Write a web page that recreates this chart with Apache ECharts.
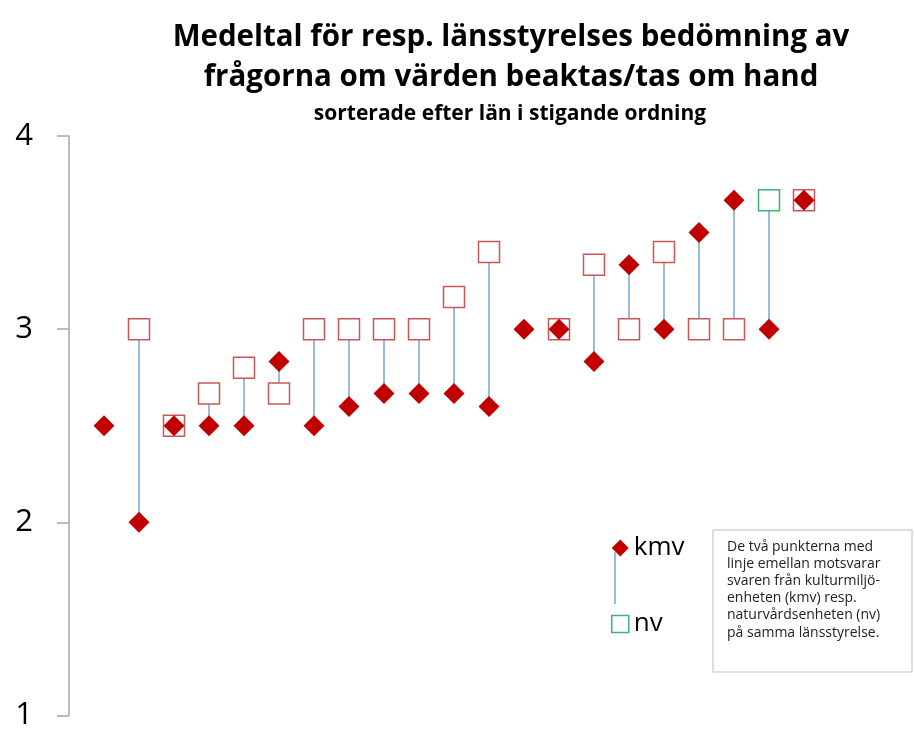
<!DOCTYPE html>
<html>
<head>
<meta charset="utf-8">
<script src="https://cdn.jsdelivr.net/npm/echarts@6/dist/echarts.min.js"></script>
<style>
  html, body { margin: 0; padding: 0; background: #fff; }
  #chart { width: 914px; height: 731px; }
</style>
</head>
<body>
<div id="chart"></div>
<script>
// län i stigande ordning (1..21)
var lan = [1, 2, 3, 4, 5, 6, 7, 8, 9, 10, 11, 12, 13, 14, 15, 16, 17, 18, 19, 20, 21];
// kulturmiljöenheten
var kmv = [2.5, 2.0, 2.5, 2.5, 2.5, 2.833, 2.5, 2.6, 2.667, 2.667, 2.667, 2.6, 3.0, 3.0, 2.833, 3.333, 3.0, 3.5, 3.667, 3.0, 3.667];
// naturvårdsenheten
var nv = [null, 3.0, 2.5, 2.667, 2.8, 2.667, 3.0, 3.0, 3.0, 3.0, 3.167, 3.4, null, 3.0, 3.333, 3.0, 3.4, 3.0, 3.0, 3.667, 3.667];
var yTicks = [1, 2, 3, 4];
var highlightIndex = 19; // grön markering

var chartDom = document.getElementById("chart");
var myChart = echarts.init(chartDom);

var pairData = lan.map(function (x, i) { return [x, kmv[i], nv[i]]; });
var nvData = lan.map(function (x, i) {
  var item = { value: [x, nv[i]] };
  if (i === highlightIndex) {
    item.itemStyle = { borderColor: "#3cb371" };
  }
  return item;
}).filter(function (d) { return d.value[1] !== null; });
var kmvData = lan.map(function (x, i) { return [x, kmv[i]]; });

var font = "Open Sans, Noto Sans, sans-serif";

var option = {
  animation: false,
  title: [
    {
      text: "Medeltal för resp. länsstyrelses bedömning av\nfrågorna om värden beaktas/tas om hand",
      left: 506,
      top: 13,
      textAlign: "center",
      textStyle: { fontFamily: font, fontSize: 29.5, fontWeight: "bold", color: "#000", lineHeight: 40 }
    },
    {
      text: "sorterade efter län i stigande ordning",
      left: 505,
      top: 99,
      textAlign: "center",
      textStyle: { fontFamily: font, fontSize: 21, fontWeight: "bold", color: "#000" }
    }
  ],
  grid: { left: 69, top: 136, right: 5, bottom: 11 },
  xAxis: {
    type: "value",
    min: 0,
    max: 24,
    show: false
  },
  yAxis: {
    type: "value",
    min: 1,
    max: 4,
    interval: 1,
    axisLine: { show: true, lineStyle: { color: "#a6a6a6", width: 1.5 } },
    axisTick: { show: true, length: 12, lineStyle: { color: "#a6a6a6", width: 1.5 } },
    splitLine: { show: false },
    axisLabel: {
      fontFamily: font,
      fontSize: 31,
      color: "#000",
      margin: 36,
      formatter: function (v) { return yTicks.indexOf(v) >= 0 ? String(v) : ""; }
    }
  },
  legend: {
    orient: "vertical",
    left: 606,
    top: 530,
    itemWidth: 17,
    itemHeight: 17,
    itemGap: 50,
    textStyle: { fontFamily: font, fontSize: 26, color: "#000" },
    data: [
      { name: "kmv", icon: "diamond", itemStyle: { color: "#c00000", borderWidth: 0 } },
      { name: "nv", icon: "rect", itemStyle: { color: "#fff", borderColor: "#3cb371", borderWidth: 1.5 } }
    ]
  },
  graphic: [
    {
      type: "line",
      shape: { x1: 615, y1: 552, x2: 615, y2: 604 },
      style: { stroke: "#7aa3d6", lineWidth: 1.5 }
    },
    {
      type: "rect",
      shape: { x: 713, y: 530, width: 199, height: 142 },
      style: { fill: "#fff", stroke: "#bfbfbf", lineWidth: 1 }
    },
    {
      type: "text",
      left: 727,
      top: 538,
      style: {
        text: "De två punkterna med\nlinje emellan motsvarar\nsvaren från kulturmiljö-\nenheten (kmv) resp.\nnaturvårdsenheten (nv)\npå samma länsstyrelse.",
        font: "14px " + font,
        fill: "#222",
        lineHeight: 17.2
      }
    }
  ],
  series: [
    {
      name: "linje",
      type: "custom",
      silent: true,
      data: pairData,
      encode: { x: 0, y: [1, 2] },
      renderItem: function (params, api) {
        var a = api.value(1);
        var b = api.value(2);
        if (isNaN(a) || isNaN(b) || a === b) { return null; }
        var p1 = api.coord([api.value(0), a]);
        var p2 = api.coord([api.value(0), b]);
        return {
          type: "line",
          shape: { x1: p1[0], y1: p1[1], x2: p2[0], y2: p2[1] },
          style: { stroke: "#7aa3d6", lineWidth: 1.5 }
        };
      }
    },
    {
      name: "nv",
      type: "scatter",
      symbol: "rect",
      symbolSize: 21,
      itemStyle: { color: "#fff", borderColor: "#cc5555", borderWidth: 1.5, opacity: 1 },
      data: nvData
    },
    {
      name: "kmv",
      type: "scatter",
      symbol: "diamond",
      symbolSize: 21,
      itemStyle: { color: "#c00000", opacity: 1 },
      data: kmvData
    }
  ]
};

myChart.setOption(option);

window.addEventListener("resize", function () {
  myChart.resize();
});
</script>
</body>
</html>
